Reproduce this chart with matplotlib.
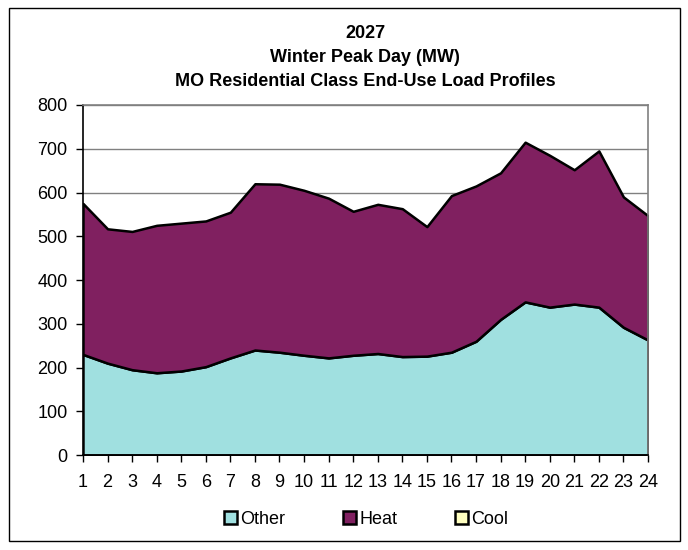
import numpy as np
import matplotlib
matplotlib.use("Agg")
import matplotlib.pyplot as plt
from matplotlib.patches import Patch, Rectangle

plt.rcParams['font.family'] = ['Liberation Sans', 'DejaVu Sans']

# hourly values (MW)
hours = list(range(1, 25))
other = [230, 210, 195, 188, 192, 202, 222, 240, 235, 228, 222, 228,
         232, 225, 226, 235, 260, 310, 350, 338, 345, 338, 292, 263]
total = [575, 517, 511, 525, 530, 535, 555, 620, 619, 605, 587, 557,
         573, 563, 522, 593, 615, 645, 715, 685, 652, 695, 590, 547]
heat = [t - o for t, o in zip(total, other)]
cool = [0] * 24

series_names = ['Other', 'Heat', 'Cool']
colors = ['#A0E0E0', '#802060', '#FFFFC0']

fig = plt.figure(figsize=(6.88, 5.5), dpi=100)
ax = fig.add_axes([0.1206, 0.1727, 0.8212, 0.6364])

x = np.array(hours)
base = np.zeros(24)
for vals, col in zip([other, heat, cool], colors):
    top = base + np.array(vals)
    if np.any(np.array(vals) > 0):
        ax.fill_between(x, base, top, facecolor=col, edgecolor='black',
                        linewidth=1.8, zorder=2)
    base = top

ax.set_xlim(1, 24)
ax.set_ylim(0, 800)
ax.set_xticks(hours)
ax.set_yticks(range(0, 801, 100))
ax.tick_params(axis='both', direction='out', length=5, width=1,
               labelsize=13, colors='black')
ax.tick_params(axis='x', pad=9)
ax.tick_params(axis='y', pad=6)
ax.yaxis.grid(True, color='#808080', linewidth=1, zorder=0)
ax.set_axisbelow(True)
for side in ['top', 'right']:
    ax.spines[side].set_color('#808080')
    ax.spines[side].set_linewidth(1.2)
for side in ['left', 'bottom']:
    ax.spines[side].set_color('black')
    ax.spines[side].set_linewidth(1.2)

fig.text(0.531, 0.940, '2027', ha='center', va='center',
         fontsize=13, fontweight='bold')
fig.text(0.531, 0.896, 'Winter Peak Day (MW)', ha='center', va='center',
         fontsize=13, fontweight='bold')
fig.text(0.531, 0.851, 'MO Residential Class End-Use Load Profiles',
         ha='center', va='center', fontsize=13, fontweight='bold')

handles = [Patch(facecolor=c, edgecolor='black', linewidth=1.8) for c in colors]
fig.legend(handles, series_names, loc='center', bbox_to_anchor=(0.532, 0.056),
           ncol=3, frameon=False, fontsize=13, handlelength=0.75,
           handleheight=0.75, handletextpad=0.15, columnspacing=3.2)

fig.patches.append(Rectangle((9 / 688, 9 / 550), 671 / 688, 533 / 550,
                             transform=fig.transFigure, fill=False,
                             edgecolor='black', linewidth=1))

fig.savefig('out.png', dpi=100)
